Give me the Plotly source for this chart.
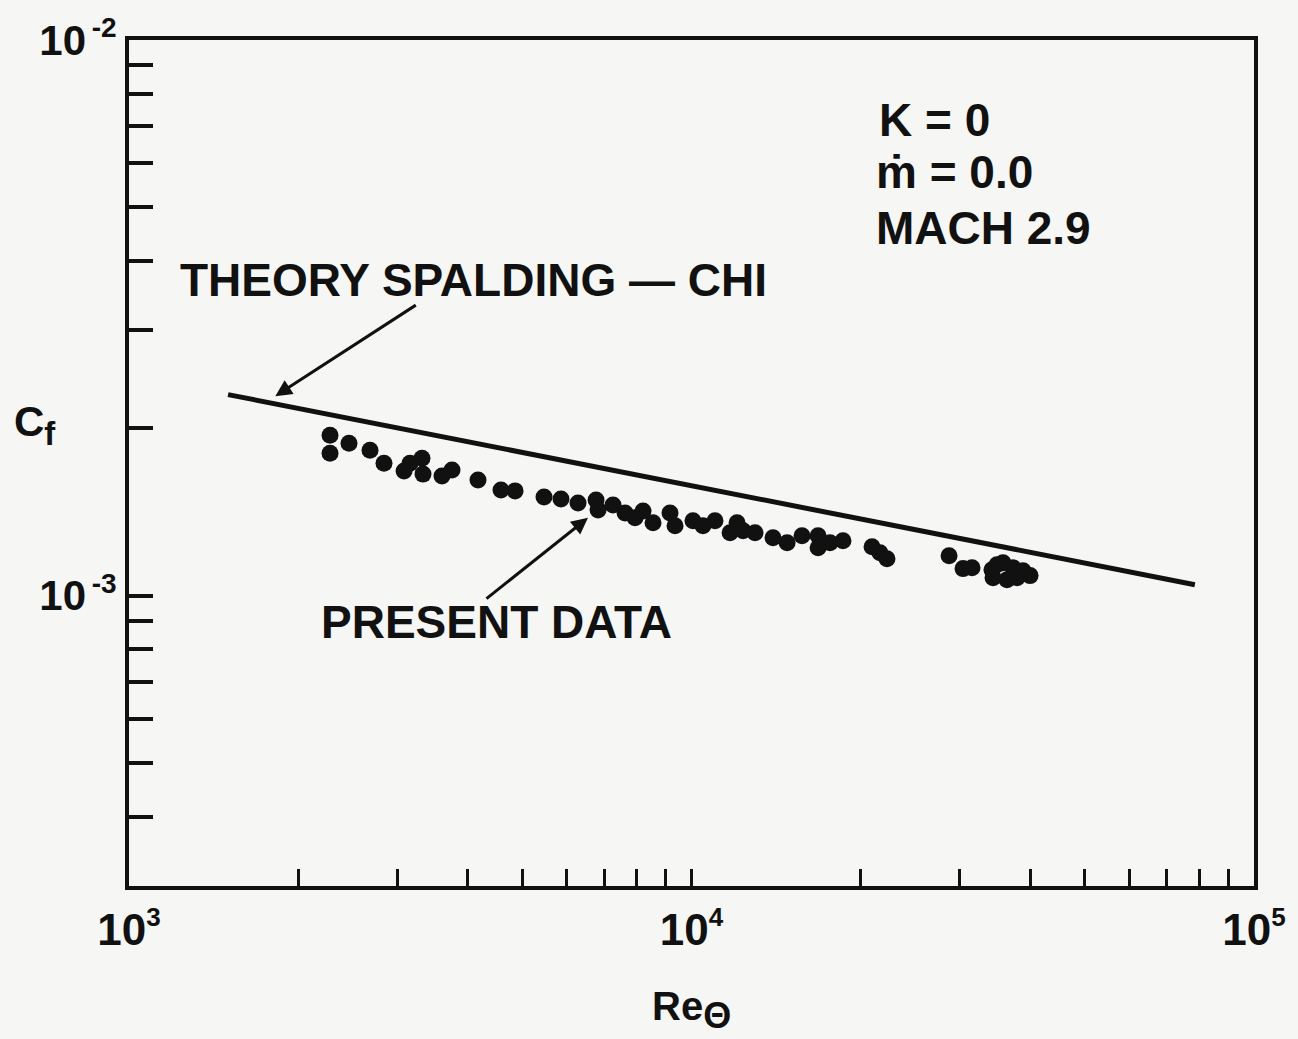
import numpy as np
import plotly.graph_objects as go

# ---- data ----
re_theta = [2277, 2277, 2461, 2682, 2840, 3083, 3159, 3318, 3332, 3601, 3752,
            4173, 4585, 4857, 5468, 5861, 6284, 6766, 6822, 7252, 7618, 7936,
            8200, 8543, 9158, 9348, 10060, 10480, 11010, 11710, 12050, 12350,
            12970, 13960, 14790, 15720, 16790, 16790, 17630, 18590, 20940,
            21630, 22260, 28700, 30390, 31530, 34210, 34920, 35790, 37290,
            37910, 34360, 39980, 38850, 36380]
cf_data = [1.943e-3, 1.804e-3, 1.880e-3, 1.826e-3, 1.731e-3, 1.675e-3, 1.731e-3,
           1.767e-3, 1.654e-3, 1.641e-3, 1.682e-3, 1.614e-3, 1.549e-3, 1.543e-3,
           1.505e-3, 1.492e-3, 1.468e-3, 1.486e-3, 1.426e-3, 1.456e-3, 1.408e-3,
           1.380e-3, 1.420e-3, 1.352e-3, 1.408e-3, 1.335e-3, 1.363e-3, 1.335e-3,
           1.363e-3, 1.297e-3, 1.352e-3, 1.308e-3, 1.297e-3, 1.270e-3, 1.245e-3,
           1.281e-3, 1.281e-3, 1.219e-3, 1.245e-3, 1.255e-3, 1.224e-3, 1.194e-3,
           1.165e-3, 1.179e-3, 1.118e-3, 1.122e-3, 1.113e-3, 1.136e-3, 1.146e-3,
           1.122e-3, 1.077e-3, 1.077e-3, 1.086e-3, 1.108e-3, 1.068e-3]

theory_re = [1500, 10000, 78500]
theory_cf = [2.30e-3, 1.58e-3, 1.046e-3]

SUPX = '<sup><span style="font-size:26px">{}</span></sup>'
SUPY = '<sup><span style="font-size:28px">\u2009{}</span></sup>'
x_tickvals = [1e3, 2e3, 3e3, 4e3, 5e3, 6e3, 7e3, 8e3, 9e3,
              1e4, 2e4, 3e4, 4e4, 5e4, 6e4, 7e4, 8e4, 9e4, 1e5]
x_ticktext = (["10" + SUPX.format("3")] + [""] * 8 + ["10" + SUPX.format("4")]
              + [""] * 8 + ["10" + SUPX.format("5")])
y_tickvals = [1e-2, 9e-3, 8e-3, 7e-3, 6e-3, 5e-3, 4e-3, 3e-3, 2e-3,
              1e-3, 9e-4, 8e-4, 7e-4, 6e-4, 5e-4, 4e-4, 3e-4]
y_ticktext = ["10" + SUPY.format("-2")] + [""] * 8 + ["10" + SUPY.format("-3")] + [""] * 7

# arrow targets (data coordinates)
theory_arrow = (1820, 2.285e-3)
data_arrow = (6546, 1.380e-3)

FONT = "Liberation Sans, Arial, Helvetica, sans-serif"
INK = "#111111"

fig = go.Figure()
fig.add_trace(go.Scatter(
    x=theory_re, y=theory_cf, mode="lines",
    line=dict(color=INK, width=5), showlegend=False, hoverinfo="skip"))
fig.add_trace(go.Scatter(
    x=re_theta, y=cf_data, mode="markers",
    marker=dict(color=INK, size=17, line=dict(width=0)),
    showlegend=False))

fig.update_layout(
    width=1298, height=1039,
    margin=dict(l=129, r=44, t=34, b=153),
    paper_bgcolor="#f6f6f4", plot_bgcolor="#f6f6f4",
    font=dict(family=FONT, color=INK, size=44, weight="bold"),
    showlegend=False,
)
fig.update_xaxes(
    type="log", range=[3, 5],
    tickvals=x_tickvals, ticktext=x_ticktext,
    ticks="inside", ticklen=17, tickwidth=3, tickcolor=INK,
    showline=True, linewidth=4, linecolor=INK, mirror=True,
    showgrid=False, zeroline=False,
    tickfont=dict(size=44, family=FONT, color=INK, weight="bold"),
    ticklabelstandoff=2,
)
fig.update_yaxes(
    type="log", range=[np.log10(3e-4), -2],
    tickvals=y_tickvals, ticktext=y_ticktext,
    ticks="inside", ticklen=24, tickwidth=4, tickcolor=INK,
    showline=True, linewidth=4, linecolor=INK, mirror=True,
    showgrid=False, zeroline=False,
    tickfont=dict(size=42, family=FONT, color=INK, weight="bold"),
    ticklabelstandoff=0,
)

txt = dict(family=FONT, color=INK, size=46, weight="bold")
ann = [
    dict(text="THEORY SPALDING — CHI", x=0.0436, y=0.716, xanchor="left", yanchor="middle"),
    dict(text="PRESENT DATA", x=0.1685, y=0.312, xanchor="left", yanchor="middle"),
    dict(text="K = 0", x=0.665, y=0.905, xanchor="left", yanchor="middle"),
    dict(text="ṁ = 0.0", x=0.662, y=0.8445, xanchor="left", yanchor="middle"),
    dict(text="MACH 2.9", x=0.662, y=0.778, xanchor="left", yanchor="middle"),
    dict(text='C<sub><span style="font-size:33px">f</span></sub>', x=-0.084, y=0.545,
         xanchor="center", yanchor="middle",
         font=dict(family=FONT, color=INK, size=42, weight="bold")),
    dict(text='Re<sub><span style="font-size:36px">Θ</span></sub>', x=0.5, y=-0.147,
         xanchor="center", yanchor="middle",
         font=dict(family=FONT, color=INK, size=40, weight="bold")),
]
for a in ann:
    a.setdefault("font", txt)
    fig.add_annotation(xref="paper", yref="paper", showarrow=False, **a)

for (ax_x, ax_y), (dx, dy) in [(theory_arrow, (142, -92)), (data_arrow, (-103, 82))]:
    fig.add_annotation(
        x=np.log10(ax_x), y=np.log10(ax_y), xref="x", yref="y",
        text="", showarrow=True, ax=dx, ay=dy,
        arrowhead=2, arrowsize=1.1, arrowwidth=3, arrowcolor=INK)

fig.write_html("out.html", config={"displayModeBar": False},
               post_script="document.body.style.margin='0px';")
